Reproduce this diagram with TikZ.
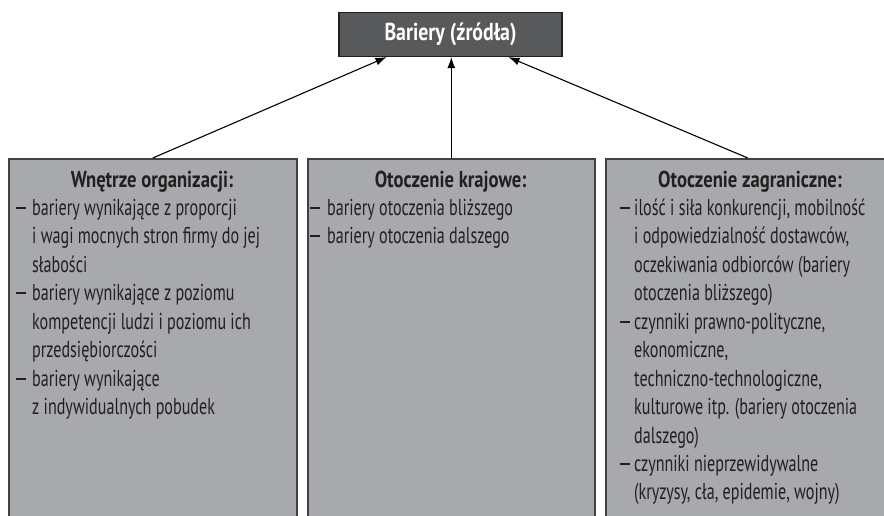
\documentclass[tikz,border=0pt]{standalone}
\usepackage{fontspec}
\setmainfont[FakeStretch=0.70, BoldFeatures={FakeStretch=0.81}]{PT Sans}
\usetikzlibrary{arrows.meta}
\definecolor{panel}{HTML}{A7A9AC}
\definecolor{panelline}{HTML}{414042}
\definecolor{headfill}{HTML}{58595B}
\definecolor{ink}{HTML}{231F20}
% dash of a list item, set in a box of the given width
\newcommand\itemdash[1]{\makebox[#1pt][l]{\rule[5.8pt]{9.5pt}{2.1pt}}}
\begin{document}
\begin{tikzpicture}[x=1pt,y=-1pt,
  panelbox/.style={draw=panelline, line width=1.6pt, fill=panel, anchor=north west,
    inner sep=0pt, minimum height=380pt},
  headbox/.style={draw=ink, line width=1.2pt, fill=headfill, text=white,
    minimum width=223pt, minimum height=44pt, inner sep=0pt,
    font=\fontsize{24.5}{28}\selectfont\bfseries},
  txt/.style={anchor=base west, inner sep=0pt, text=ink,
    font=\fontsize{23}{27}\selectfont},
  ttl/.style={anchor=base, inner sep=0pt, text=ink,
    font=\fontsize{23}{27}\selectfont\bfseries},
  conn/.style={draw=black, line width=1.1pt, -{Latex[length=11pt,width=8pt]}}]
\useasboundingbox (0,0) rectangle (884,515);

% panels (open at the bottom edge)
\node[panelbox, minimum width=288pt] (L) at (8,158) {};
\node[panelbox, minimum width=287pt] (M) at (307,158) {};
\node[panelbox, minimum width=284pt] (R) at (605,158) {};

% header
\node[headbox] (T) at (450.5,34.5) {Bariery (źródła)};

% connectors
\draw[conn] (L.north) -- ([xshift=-64pt]T.south);
\draw[conn] (M.north) -- (M.north |- T.south);
\draw[conn] (R.north) -- ([xshift=58pt]T.south);

% left panel
\node[ttl] (L0) at (152,187) {Wnętrze organizacji:};
\node[txt] (L1) at (16,215) {\itemdash{16}bariery wynikające z proporcji};
\node[txt] (L2) at (32,243) {i wagi mocnych stron firmy do jej};
\node[txt] (L3) at (32,272) {słabości};
\node[txt] (L4) at (16,300) {\itemdash{16}bariery wynikające z poziomu};
\node[txt] (L5) at (32,329) {kompetencji ludzi i poziomu ich};
\node[txt] (L6) at (32,357) {przedsiębiorczości};
\node[txt] (L7) at (16,386) {\itemdash{16}bariery wynikające};
\node[txt] (L8) at (32,414) {z indywidualnych pobudek};

% middle panel
\node[ttl] (M0) at (450.5,187) {Otoczenie krajowe:};
\node[txt] (M1) at (310,215) {\itemdash{17}bariery otoczenia bliższego};
\node[txt] (M2) at (310,243) {\itemdash{17}bariery otoczenia dalszego};

% right panel
\node[ttl] (R0) at (750,187) {Otoczenie zagraniczne:};
\node[txt] (R1) at (620,215) {\itemdash{14}ilość i siła konkurencji, mobilność};
\node[txt] (R2) at (634,243) {i odpowiedzialność dostawców,};
\node[txt] (R3) at (634,272) {oczekiwania odbiorców (bariery};
\node[txt] (R4) at (634,300) {otoczenia bliższego)};
\node[txt] (R5) at (620,329) {\itemdash{14}czynniki prawno-polityczne,};
\node[txt] (R6) at (634,357) {ekonomiczne,};
\node[txt] (R7) at (634,386) {techniczno-technologiczne,};
\node[txt] (R8) at (634,414) {kulturowe itp. (bariery otoczenia};
\node[txt] (R9) at (634,443) {dalszego)};
\node[txt] (R10) at (620,471) {\itemdash{14}czynniki nieprzewidywalne};
\node[txt] (R11) at (634,499) {(kryzysy, cła, epidemie, wojny)};
\end{tikzpicture}
\end{document}
